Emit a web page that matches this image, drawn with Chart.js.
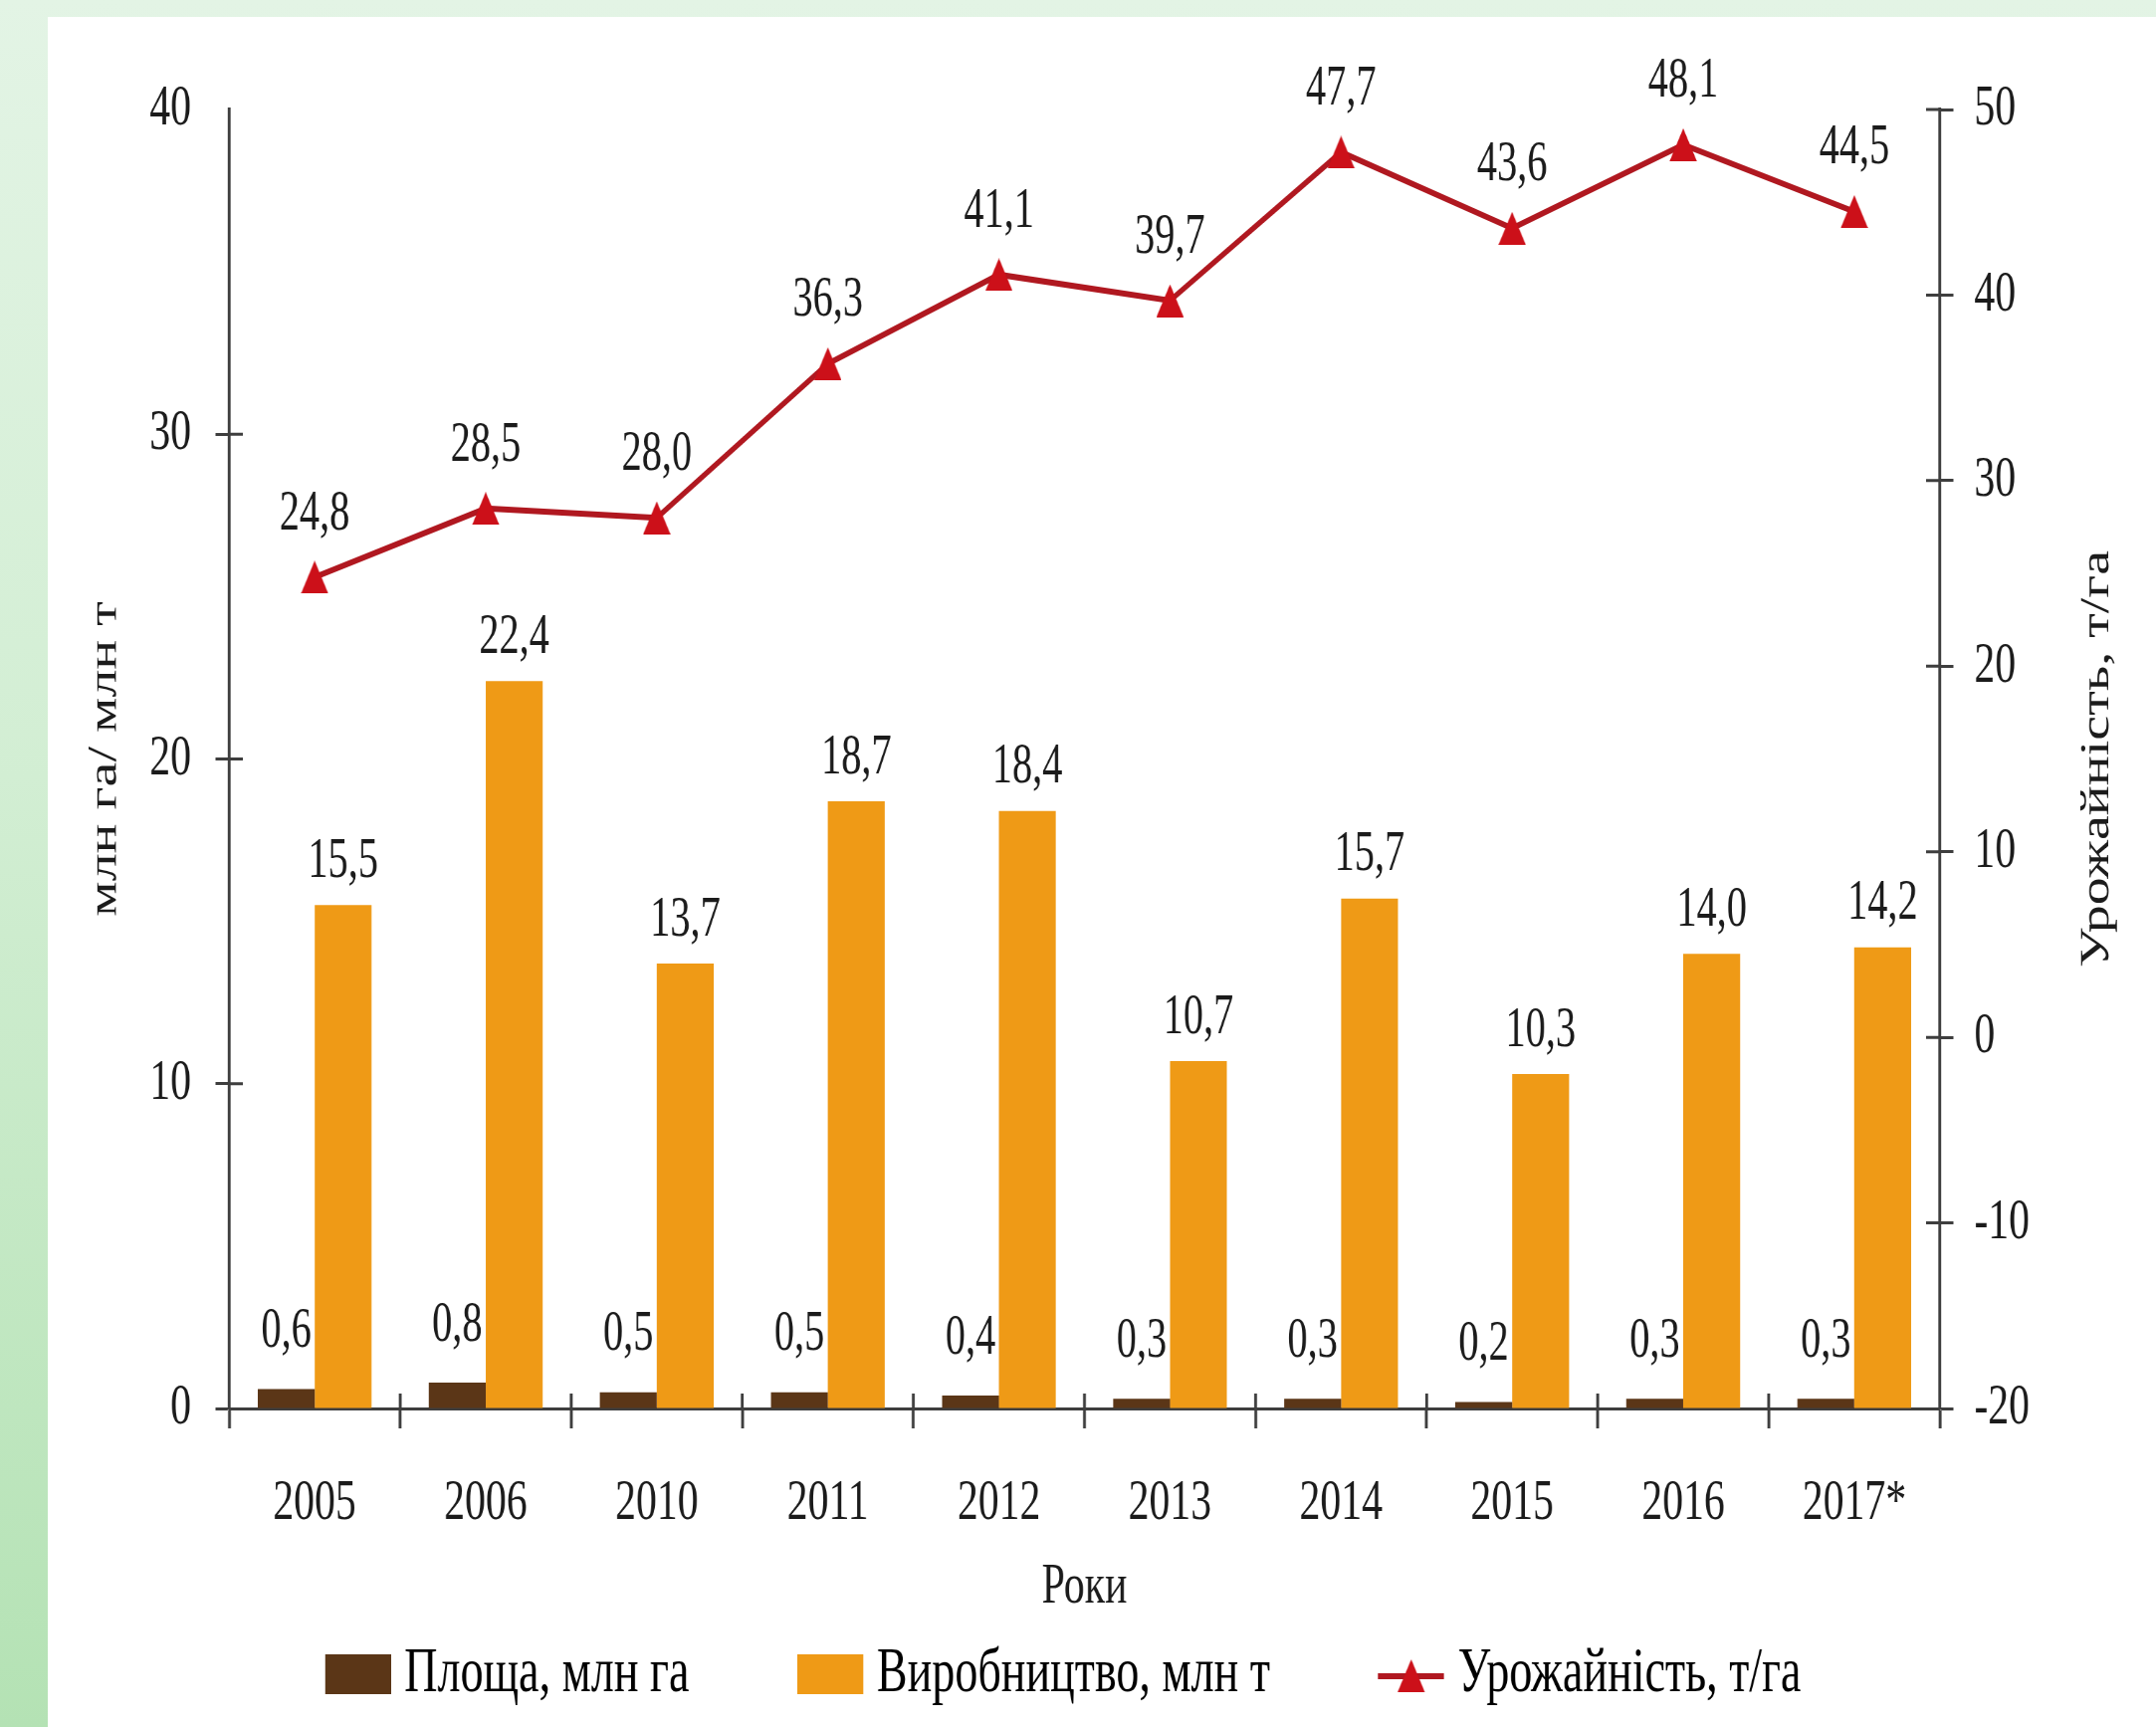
<!DOCTYPE html>
<html lang="uk">
<head>
<meta charset="utf-8">
<title>Площа, виробництво та урожайність</title>
<script src="https://cdn.jsdelivr.net/npm/chart.js@4.4.1/dist/chart.umd.min.js"></script>
<style>
  html, body { margin: 0; padding: 0; overflow: hidden; }
  body {
    width: 2166px; height: 1735px; position: relative;
    background: linear-gradient(180deg, #e3f4e5 0%, #d2eed3 45%, #b4e2b4 100%);
  }
  #panel { position: absolute; left: 48px; top: 17px; width: 2118px; height: 1718px; background: #fff; overflow: hidden; }
  /* the source picture is horizontally condensed, so the chart is drawn wide and squeezed */
  #chart { display: block; transform: scaleX(0.72); transform-origin: 0 0; }
</style>
</head>
<body>
<div id="panel"><canvas id="chart" width="2942" height="1718"></canvas></div>
<script>
const years = ['2005', '2006', '2010', '2011', '2012', '2013', '2014', '2015', '2016', '2017*'];
const areaValues = [0.6, 0.8, 0.5, 0.5, 0.4, 0.3, 0.3, 0.2, 0.3, 0.3];
const productionValues = [15.5, 22.4, 13.7, 18.7, 18.4, 10.7, 15.7, 10.3, 14.0, 14.2];
const yieldValues = [24.8, 28.5, 28.0, 36.3, 41.1, 39.7, 47.7, 43.6, 48.1, 44.5];
const leftAxisTicks = [0, 10, 20, 30, 40];
const rightAxisTicks = [-20, -10, 0, 10, 20, 30, 40, 50];
const seriesNames = ['Площа, млн га', 'Виробництво, млн т', 'Урожайність, т/га'];
const leftAxisTitle = 'млн га/ млн т';
const rightAxisTitle = 'Урожайність, т/га';
const xAxisTitle = 'Роки';

const FONT = "'Liberation Serif', 'Times New Roman', serif";
const textColor = '#1b1b1b';
const axisColor = '#3e3e3e';
const brown = '#5b3617';
const orange = '#ef9a16';
const lineColor = '#b01820';
const pointColor = '#cc1019';

Chart.defaults.font.family = FONT;
Chart.defaults.color = textColor;

// triangle marker, box centred like the original
function makeTriangle() {
    const c = document.createElement('canvas');
    c.width = 38; c.height = 33;
    const g = c.getContext('2d');
    g.fillStyle = pointColor;
    g.beginPath();
    g.moveTo(19, 0);
    g.lineTo(38, 33);
    g.lineTo(0, 33);
    g.closePath();
    g.fill();
    return c;
}
const triangle = makeTriangle();

function makeSwatch(kind, color) {
    const c = document.createElement('canvas');
    c.width = 92; c.height = 44;
    const g = c.getContext('2d');
    if (kind === 'box') {
        g.fillStyle = color;
        g.fillRect(0, 2, 92, 40);
    } else {
        g.strokeStyle = lineColor;
        g.lineWidth = 6;
        g.beginPath();
        g.moveTo(0, 24);
        g.lineTo(92, 24);
        g.stroke();
        g.drawImage(triangle, 46 - 19, 24 - 17);
    }
    return c;
}
const swatches = [makeSwatch('box', brown), makeSwatch('box', orange), makeSwatch('line')];
const legendGaps = ['         ', '         ', '      '];

const valueLabels = {
    id: 'valueLabels',
    afterDatasetsDraw(chart) {
        const ctx = chart.ctx;
        ctx.save();
        ctx.font = '56px ' + FONT;
        ctx.fillStyle = textColor;
        ctx.textAlign = 'center';
        ctx.textBaseline = 'middle';
        chart.data.datasets.forEach((ds, i) => {
            chart.getDatasetMeta(i).data.forEach((el, j) => {
                ctx.fillText(ds.data[j].toFixed(1).replace('.', ','), el.x, el.y - ds.labelLift);
            });
        });
        ctx.restore();
    }
};

// tick marks that cross the axes, plus the right-hand title read bottom-to-top
const axisExtras = {
    id: 'axisExtras',
    afterDraw(chart) {
        const { ctx, chartArea: a, scales } = chart;
        const { x, y, y2 } = scales;
        ctx.save();
        ctx.strokeStyle = axisColor;
        ctx.lineWidth = 3;
        ctx.beginPath();
        y.ticks.forEach(t => {
            if (t.value === y.min || t.value === y.max) return;
            const py = y.getPixelForValue(t.value);
            ctx.moveTo(a.left, py);
            ctx.lineTo(a.left + 19, py);
        });
        y2.ticks.forEach(t => {
            if (t.value === y2.min) return;
            const py = y2.getPixelForValue(t.value);
            ctx.moveTo(a.right - 19, py);
            ctx.lineTo(a.right, py);
        });
        ctx.stroke();
        ctx.lineWidth = 4;
        ctx.beginPath();
        for (let i = 1; i < years.length; i++) {
            const px = x.getPixelForValue(i - 0.5);
            ctx.moveTo(px, a.bottom - 15);
            ctx.lineTo(px, a.bottom);
        }
        ctx.stroke();

        ctx.translate(y2.right - 82, (a.top + a.bottom) / 2);
        ctx.rotate(-Math.PI / 2);
        ctx.font = '56px ' + FONT;
        ctx.fillStyle = textColor;
        ctx.textAlign = 'center';
        ctx.textBaseline = 'middle';
        ctx.fillText(rightAxisTitle, 0, 0);
        ctx.restore();
    }
};

new Chart(document.getElementById('chart'), {
    type: 'bar',
    data: {
        labels: years,
        datasets: [
            {
                label: seriesNames[0],
                data: areaValues,
                backgroundColor: brown,
                yAxisID: 'y',
                order: 1,
                labelLift: 57
            },
            {
                label: seriesNames[1],
                data: productionValues,
                backgroundColor: orange,
                yAxisID: 'y',
                order: 1,
                labelLift: 43
            },
            {
                type: 'line',
                label: seriesNames[2],
                data: yieldValues,
                yAxisID: 'y2',
                borderColor: lineColor,
                borderWidth: 6,
                pointStyle: triangle,
                pointRadius: 18,
                tension: 0,
                order: 0,
                labelLift: 63
            }
        ]
    },
    options: {
        responsive: false,
        devicePixelRatio: 1,
        animation: false,
        layout: { padding: { top: 93, bottom: 11, left: 0, right: 0 } },
        datasets: {
            bar: { categoryPercentage: 0.665, barPercentage: 1.0 }
        },
        plugins: {
            tooltip: { enabled: false },
            legend: {
                position: 'bottom',
                align: 'center',
                labels: {
                    usePointStyle: true,
                    pointStyleWidth: 66,
                    font: { size: 64 },
                    color: textColor,
                    padding: 20,
                    generateLabels: chart => chart.data.datasets.map((ds, i) => ({
                        text: ds.label + legendGaps[i],
                        pointStyle: swatches[i],
                        fillStyle: 'rgba(0,0,0,0)',
                        strokeStyle: 'rgba(0,0,0,0)',
                        lineWidth: 0,
                        hidden: false,
                        datasetIndex: i
                    }))
                }
            }
        },
        scales: {
            x: {
                type: 'category',
                offset: true,
                grid: {
                    offset: true,
                    drawOnChartArea: false,
                    tickLength: 20,
                    tickWidth: 4,
                    tickColor: axisColor
                },
                border: { display: true, color: axisColor, width: 3 },
                ticks: { font: { size: 58 }, color: textColor, padding: 41, autoSkip: false, maxRotation: 0 },
                title: { display: true, text: xAxisTitle, font: { size: 58 }, color: textColor, padding: { top: 0, bottom: 0 } },
                afterFit: s => { s.height = 215; }
            },
            y: {
                position: 'left',
                min: leftAxisTicks[0],
                max: leftAxisTicks[leftAxisTicks.length - 1],
                afterBuildTicks: s => { s.ticks = leftAxisTicks.map(v => ({ value: v })); },
                grid: {
                    drawOnChartArea: false,
                    tickLength: 19,
                    tickWidth: 3,
                    tickColor: c => (c.tick && c.tick.value === leftAxisTicks[leftAxisTicks.length - 1]) ? 'rgba(0,0,0,0)' : axisColor
                },
                border: { display: true, color: axisColor, width: 4 },
                ticks: { font: { size: 58 }, color: textColor, padding: 34, callback: v => String(v) },
                title: { display: true, text: leftAxisTitle, font: { size: 56 }, color: textColor, padding: { top: 47, bottom: 0 } },
                afterFit: s => { s.width = 253; }
            },
            y2: {
                position: 'right',
                min: rightAxisTicks[0],
                max: rightAxisTicks[rightAxisTicks.length - 1],
                afterBuildTicks: s => { s.ticks = rightAxisTicks.map(v => ({ value: v })); },
                grid: { drawOnChartArea: false, tickLength: 19, tickWidth: 3, tickColor: axisColor },
                border: { display: true, color: axisColor, width: 4 },
                ticks: { font: { size: 58 }, color: textColor, padding: 29, callback: v => String(v) },
                title: { display: false },
                afterFit: s => { s.width = 302; }
            }
        }
    },
    plugins: [valueLabels, axisExtras]
});
</script>
</body>
</html>
